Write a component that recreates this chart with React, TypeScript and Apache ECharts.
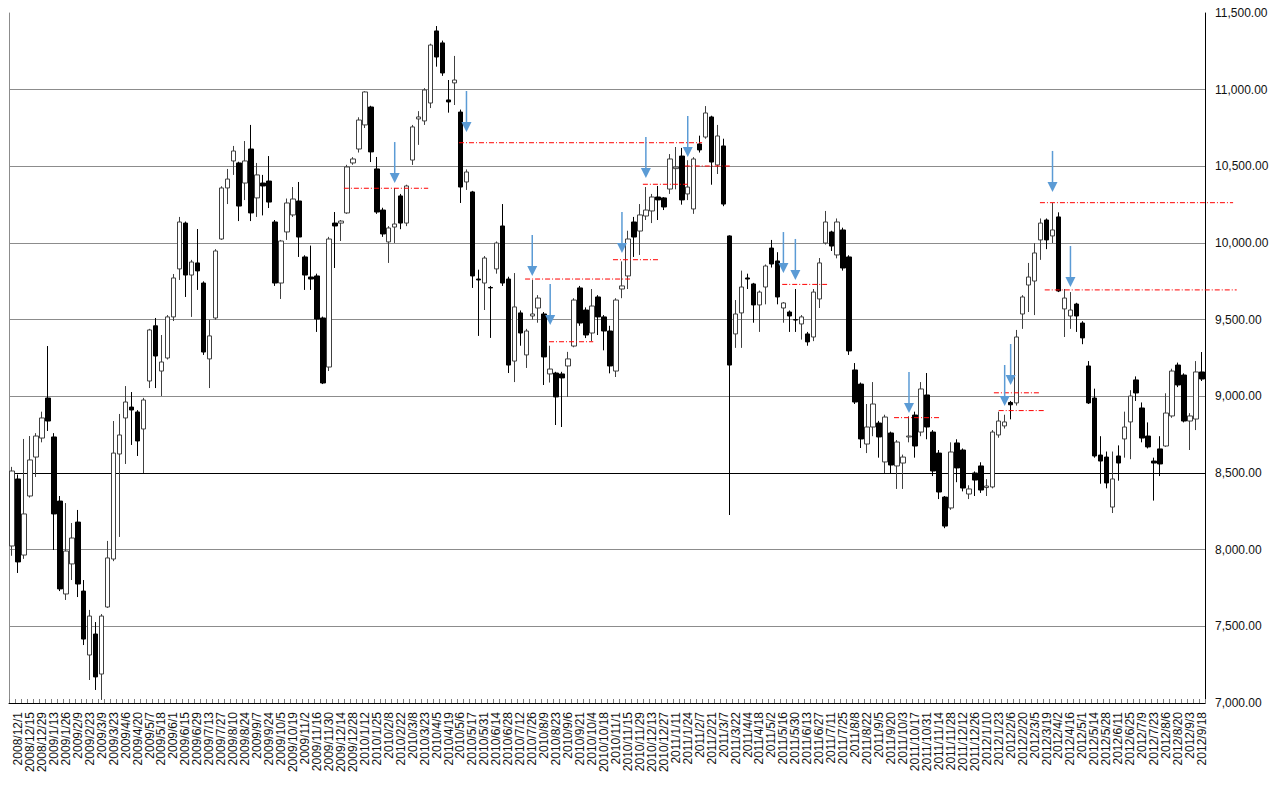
import React, { useEffect, useRef } from "react";
import * as echarts from "echarts";

const dates = [
  "2008/11/25","2008/12/1","2008/12/8","2008/12/15","2008/12/22","2008/12/29","2009/1/5","2009/1/13","2009/1/19","2009/1/26",
  "2009/2/2","2009/2/9","2009/2/16","2009/2/23","2009/3/2","2009/3/9","2009/3/16","2009/3/23","2009/3/30","2009/4/6",
  "2009/4/13","2009/4/20","2009/4/27","2009/5/7","2009/5/11","2009/5/18","2009/5/25","2009/6/1","2009/6/8","2009/6/15",
  "2009/6/22","2009/6/29","2009/7/6","2009/7/13","2009/7/21","2009/7/27","2009/8/3","2009/8/10","2009/8/17","2009/8/24",
  "2009/8/31","2009/9/7","2009/9/14","2009/9/24","2009/9/28","2009/10/5","2009/10/13","2009/10/19","2009/10/26","2009/11/2",
  "2009/11/9","2009/11/16","2009/11/24","2009/11/30","2009/12/7","2009/12/14","2009/12/21","2009/12/28","2010/1/4","2010/1/12",
  "2010/1/18","2010/1/25","2010/2/1","2010/2/8","2010/2/15","2010/2/22","2010/3/1","2010/3/8","2010/3/15","2010/3/23",
  "2010/3/29","2010/4/5","2010/4/12","2010/4/19","2010/4/26","2010/5/6","2010/5/10","2010/5/17","2010/5/24","2010/5/31",
  "2010/6/7","2010/6/14","2010/6/21","2010/6/28","2010/7/5","2010/7/12","2010/7/20","2010/7/26","2010/8/2","2010/8/9",
  "2010/8/16","2010/8/23","2010/8/30","2010/9/6","2010/9/13","2010/9/21","2010/9/27","2010/10/4","2010/10/12","2010/10/18",
  "2010/10/25","2010/11/1","2010/11/8","2010/11/15","2010/11/22","2010/11/29","2010/12/6","2010/12/13","2010/12/20","2010/12/27",
  "2011/1/4","2011/1/11","2011/1/17","2011/1/24","2011/1/31","2011/2/7","2011/2/14","2011/2/21","2011/2/28","2011/3/7",
  "2011/3/14","2011/3/22","2011/3/28","2011/4/4","2011/4/11","2011/4/18","2011/4/25","2011/5/2","2011/5/9","2011/5/16",
  "2011/5/23","2011/5/30","2011/6/6","2011/6/13","2011/6/20","2011/6/27","2011/7/4","2011/7/11","2011/7/19","2011/7/25",
  "2011/8/1","2011/8/8","2011/8/15","2011/8/22","2011/8/29","2011/9/5","2011/9/12","2011/9/20","2011/9/26","2011/10/3",
  "2011/10/11","2011/10/17","2011/10/24","2011/10/31","2011/11/7","2011/11/14","2011/11/21","2011/11/28","2011/12/5","2011/12/12",
  "2011/12/19","2011/12/26","2012/1/4","2012/1/10","2012/1/16","2012/1/23","2012/1/30","2012/2/6","2012/2/13","2012/2/20",
  "2012/2/27","2012/3/5","2012/3/12","2012/3/19","2012/3/26","2012/4/2","2012/4/9","2012/4/16","2012/4/23","2012/5/1",
  "2012/5/7","2012/5/14","2012/5/21","2012/5/28","2012/6/4","2012/6/11","2012/6/18","2012/6/25","2012/7/2","2012/7/9",
  "2012/7/17","2012/7/23","2012/7/30","2012/8/6","2012/8/13","2012/8/20","2012/8/27","2012/9/3","2012/9/10","2012/9/18",
];

const openValues = [
  8024,8461,7965,8350,8604,8728,8989,8735,8317,7711,
  7907,8180,7730,7313,7450,7189,7626,7939,8624,8859,
  8930,8898,8787,9100,9460,9165,9250,9518,9831,10130,
  9791,9870,9739,9244,9511,10026,10359,10535,10522,10391,
  10613,10294,10391,10404,10137,9739,10072,10183,10274,9909,
  9778,9785,9511,9191,10130,10130,10196,10522,10613,10770,
  10887,10483,10215,10007,10104,10307,10130,10541,10809,10796,
  10913,11383,11305,10933,11044,10854,10398,10333,9765,9739,
  9710,9831,10111,9765,9230,9544,9270,9524,9576,9537,
  9146,9152,9146,9198,9328,9707,9563,9413,9648,9518,
  9426,9165,9700,9785,10137,10078,10176,10209,10300,10294,
  10352,10485,10567,10320,10222,10646,10691,10822,10509,10633,
  10046,9407,9544,9772,9733,9596,9713,9967,9883,9576,
  9550,9500,9472,9407,9387,9635,10000,10072,9922,10085,
  9909,9172,9080,8689,8800,8826,8572,8761,8546,8565,
  8735,8878,8767,9009,8767,8630,8343,8272,8696,8650,
  8363,8500,8546,8405,8409,8748,8807,8960,8957,9537,
  9726,9752,10020,10150,10046,10170,9570,9524,9602,9478,
  9198,8989,8617,8604,8278,8611,8722,8833,9107,8924,
  8741,8578,8657,8676,8872,9204,9139,8839,8852,9159,
];

const closeValues = [
  8513,7920,8233,8585,8741,8859,8839,8233,7744,7991,
  8076,7776,7417,7567,7170,7567,7946,8630,8748,8963,
  8911,8709,8976,9433,9263,9224,9518,9772,10137,9791,
  9876,9818,9289,9394,9948,10359,10417,10600,10241,10535,
  10196,10444,10372,10267,9739,10013,10261,10287,10039,9791,
  9765,9504,9087,10026,10111,10143,10496,10548,10802,10985,
  10594,10202,10059,10098,10124,10130,10372,10757,10822,10998,
  11291,11213,11109,10920,11063,10365,10463,9785,9759,9902,
  9707,10000,9739,9204,9583,9413,9426,9537,9641,9257,
  9178,8996,9120,9244,9628,9478,9400,9589,9518,9426,
  9198,9628,9720,10026,10039,10183,10215,10300,10281,10235,
  10548,10495,10281,10365,10548,10607,10848,10528,10698,10254,
  9204,9537,9713,9765,9596,9680,9850,9863,9648,9609,
  9524,9498,9518,9355,9680,9870,10137,9980,10137,9837,
  9296,8963,8722,8800,8950,8735,8865,8552,8702,8604,
  8741,8676,9048,8800,8513,8376,8154,8637,8533,8402,
  8396,8454,8389,8415,8767,8839,8833,8945,9387,9648,
  9778,9935,10130,10020,10085,9687,9641,9563,9524,9381,
  8957,8611,8578,8435,8461,8565,8800,9002,9022,8728,
  8670,8565,8559,8891,9165,9074,8839,8872,9159,9113,
];

const lowValues = [
  7960,7848,7940,8340,8474,8700,8774,7998,7730,7672,
  7802,7691,7378,7150,7085,7020,7620,7925,8083,8559,
  8683,8611,8500,9054,9054,9002,9240,9491,9759,9648,
  9518,9694,9270,9054,9500,10020,10254,10444,10143,10280,
  10143,10170,10180,10228,9720,9635,10020,10170,9909,9694,
  9694,9420,9080,9165,9837,10013,10190,10510,10590,10750,
  10528,10190,10040,9870,10000,10090,10110,10509,10640,10770,
  10880,11150,11090,10850,10900,10261,10346,9707,9394,9563,
  9381,9800,9720,9152,9093,9330,9185,9500,9480,9074,
  9090,8813,8800,8996,9320,9460,9380,9360,9400,9300,
  9150,9126,9640,9700,9909,9922,10150,10130,10150,10215,
  10320,10350,10250,10280,10190,10590,10680,10380,10450,10240,
  8226,9316,9316,9700,9480,9420,9600,9840,9600,9480,
  9420,9420,9370,9330,9360,9576,9990,9948,9900,9820,
  9270,8950,8663,8630,8740,8600,8500,8500,8396,8396,
  8700,8600,8740,8720,8480,8330,8140,8260,8440,8380,
  8330,8350,8370,8350,8400,8730,8790,8850,8940,9440,
  9550,9530,9890,9960,10000,9680,9387,9440,9420,9340,
  8950,8600,8430,8400,8239,8450,8600,8590,8970,8700,
  8660,8320,8480,8670,8860,9060,8830,8650,8780,9100,
];

const highValues = [
  8540,8490,8722,8741,8760,8900,9328,8760,8350,8304,
  8174,8259,7802,7607,7528,7580,8057,8839,8885,9067,
  9028,8910,8990,9440,9511,9400,9530,9798,10170,10140,
  9890,10091,9750,9498,9960,10370,10483,10633,10530,10665,
  10770,10522,10444,10567,10150,10020,10290,10365,10398,9920,
  9983,9800,9520,10040,10202,10150,10510,10560,10820,10990,
  10895,10561,10230,10110,10359,10320,10380,10770,10860,11010,
  11300,11415,11320,11063,11220,10870,10480,10340,9826,9915,
  9720,10010,10254,9780,9804,9560,9440,9759,9660,9550,
  9330,9160,9160,9290,9640,9720,9580,9700,9660,9530,
  9460,9640,9880,10080,10170,10254,10365,10320,10372,10300,
  10580,10626,10620,10540,10560,10700,10893,10830,10770,10680,
  10050,9628,9820,9800,9740,9690,9860,10020,9940,9615,
  9560,9700,9530,9420,9700,9902,10209,10080,10160,10100,
  9920,9217,9090,8950,9093,8840,8880,8770,8715,8620,
  8870,8900,9093,9152,8780,8650,8350,8700,8720,8660,
  8420,8510,8570,8460,8780,8900,8880,8970,9433,9660,
  9870,10000,10160,10160,10261,10200,9700,9680,9610,9490,
  9230,9050,8740,8640,8640,8680,8900,9040,9130,8960,
  8830,8600,8740,9020,9180,9220,9150,8890,9230,9289,
];

// Blue arrows: category index and the value the arrow tip points at
const arrowIndex = [64, 76, 87, 90, 102, 106, 113, 129, 131, 150, 166, 167, 174, 177];
const arrowValue = [10391, 10724, 9785, 9465, 9935, 10424, 10561, 9804, 9759, 8891, 8937, 9074, 10333, 9713];

// Red dash-dot levels: start / end position (in category units) and level value
const levelStart = [55.5, 74.75, 85.8, 89.8, 100.5, 105.5, 112.5, 128.8, 147.5, 164.2, 165.0, 171.9, 172.7];
const levelEnd = [69.6, 115.4, 103.7, 97.2, 108.2, 113.0, 120.1, 136.3, 155.2, 171.9, 172.7, 204.2, 204.8];
const levelValue = [10357, 10654, 9765, 9356, 9891, 10383, 10502, 9730, 8861, 9023, 8907, 10263, 9694];

const yMin = 7000;
const yMax = 11500;
const yStep = 500;

export default function App() {
  const ref = useRef<HTMLDivElement>(null);

  useEffect(() => {
    if (!ref.current) return;
    const chart = echarts.init(ref.current, null, { renderer: "svg" });
    const font = "'Liberation Sans', Arial, sans-serif";
    const candles = dates.map((_, i) => [openValues[i], closeValues[i], lowValues[i], highValues[i]]);
    const splitColors: string[] = [];
    for (let v = yMin; v <= yMax; v += yStep) splitColors.push(v === 8500 ? "#000000" : "#8c8c8c");

    const option: any = {
      animation: false,
      backgroundColor: "#ffffff",
      grid: { left: 9, right: 74, top: 13, bottom: 97, containLabel: false },
      xAxis: {
        type: "category",
        data: dates,
        boundaryGap: true,
        axisLine: { show: true, lineStyle: { color: "#000000", width: 1 } },
        axisTick: { show: true, inside: true, interval: 0, length: 4, lineStyle: { color: "#808080" } },
        axisLabel: {
          interval: (index: number) => index % 2 === 1,
          rotate: 90,
          fontSize: 12,
          color: "#111111",
          fontFamily: font,
          margin: 9,
        },
        splitLine: { show: false },
      },
      yAxis: [
        {
          type: "value",
          position: "right",
          min: yMin,
          max: yMax,
          interval: yStep,
          axisLine: { show: true, lineStyle: { color: "#000000" } },
          axisTick: { show: false },
          axisLabel: {
            fontSize: 12,
            color: "#111111",
            fontFamily: font,
            margin: 10,
            formatter: (v: number) =>
              v.toLocaleString("en-US", { minimumFractionDigits: 2, maximumFractionDigits: 2 }),
          },
          splitLine: { show: true, showMaxLine: false, lineStyle: { color: splitColors, width: 1 } },
        },
        {
          type: "value",
          position: "left",
          min: yMin,
          max: yMax,
          interval: yStep,
          axisLine: { show: true, lineStyle: { color: "#8c8c8c" } },
          axisTick: { show: false },
          axisLabel: { show: false },
          splitLine: { show: false },
        },
      ],
      series: [
        {
          type: "candlestick",
          data: candles,
          barWidth: 5,
          itemStyle: {
            color: "#ffffff",
            color0: "#000000",
            borderColor: "#404040",
            borderColor0: "#000000",
            borderWidth: 1,
          },
        },
        {
          type: "custom",
          silent: true,
          clip: false,
          data: levelValue.map((v, i) => [levelStart[i], levelEnd[i], v]),
          encode: { x: 0, y: 2 },
          renderItem: (params: any, api: any) => {
            const base = api.coord([0, api.value(2)]);
            const bw = api.size([1, 0])[0];
            const x1 = base[0] + api.value(0) * bw;
            const x2 = base[0] + api.value(1) * bw;
            return {
              type: "line",
              shape: { x1, y1: base[1], x2, y2: base[1] },
              style: { stroke: "#ff0000", lineWidth: 1, lineDash: [5, 2, 1, 2] },
            };
          },
          z: 5,
        },
        {
          type: "custom",
          silent: true,
          clip: false,
          data: arrowIndex.map((idx, i) => [idx, arrowValue[i]]),
          encode: { x: 0, y: 1 },
          renderItem: (params: any, api: any) => {
            const p = api.coord([api.value(0), api.value(1)]);
            return {
              type: "group",
              children: [
                {
                  type: "line",
                  shape: { x1: p[0], y1: p[1] - 41, x2: p[0], y2: p[1] - 9 },
                  style: { stroke: "#5b9bd5", lineWidth: 1.5 },
                },
                {
                  type: "polygon",
                  shape: { points: [[p[0] - 5, p[1] - 10], [p[0] + 5, p[1] - 10], [p[0], p[1]]] },
                  style: { fill: "#5b9bd5" },
                },
              ],
            };
          },
          z: 6,
        },
      ],
    };

    chart.setOption(option);
    return () => chart.dispose();
  }, []);

  return (
    <div
      ref={ref}
      style={{ position: "fixed", left: 0, top: 0, width: 1279, height: 800, background: "#fff" }}
    />
  );
}
